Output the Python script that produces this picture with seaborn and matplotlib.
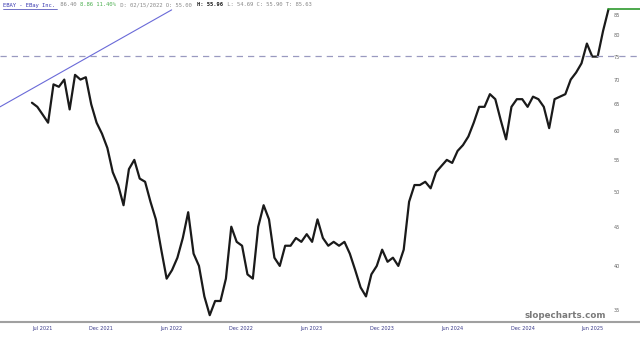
import matplotlib
matplotlib.use("Agg")
import matplotlib.pyplot as plt
from matplotlib.lines import Line2D
import seaborn as sns
import pandas as pd

# ---- data (bi-weekly closes) ----
start_date = "2021-06-05"
closes = [65.3, 64.5, 63.0, 61.5, 69.0, 68.5, 70.0, 64.0, 71.0, 70.0,
          70.5, 65.0, 61.5, 59.5, 57.0, 53.0, 51.0, 48.0, 53.5, 55.0,
          52.0, 51.5, 48.5, 46.0, 42.0, 38.5, 39.5, 41.0, 43.5, 47.0,
          41.5, 40.0, 36.5, 34.5, 36.0, 36.0, 38.5, 45.0, 43.0, 42.5,
          39.0, 38.5, 45.0, 48.0, 46.0, 41.0, 40.0, 42.5, 42.5, 43.5,
          43.0, 44.0, 43.0, 46.0, 43.5, 42.5, 43.0, 42.5, 43.0, 41.5,
          39.5, 37.5, 36.5, 39.0, 40.0, 42.0, 40.5, 41.0, 40.0, 42.0,
          48.5, 51.0, 51.0, 51.5, 50.5, 53.0, 54.0, 55.0, 54.5, 56.5,
          57.5, 59.0, 61.5, 64.5, 64.5, 67.0, 66.0, 62.0, 58.5, 64.5,
          66.0, 66.0, 64.5, 66.5, 66.0, 64.5, 60.5, 66.0, 66.5, 67.0,
          70.0, 71.5, 73.5, 78.0, 75.0, 75.0, 81.0, 86.4]
dates = pd.date_range(start_date, periods=len(closes), freq="14D")
last_price = 86.40
resistance = 75.2
trend_dates = ["2021-03-14", "2022-06-03"]
trend_values = [64.5, 86.3]
y_ticks = [35, 40, 45, 50, 55, 60, 65, 70, 75, 80, 85]
x_tick_dates = ["2021-07-01", "2021-12-01", "2022-06-01", "2022-12-01", "2023-06-01",
                "2023-12-01", "2024-06-01", "2024-12-01", "2025-06-01"]
x_tick_labels = ["Jul 2021", "Dec 2021", "Jun 2022", "Dec 2022", "Jun 2023",
                 "Dec 2023", "Jun 2024", "Dec 2024", "Jun 2025"]

df = pd.DataFrame({"date": dates, "close": closes})

sns.set_style("white")
plt.rcParams["font.family"] = ["DejaVu Sans"]

fig = plt.figure(figsize=(6.4, 3.37), dpi=100)
ax = fig.add_axes([0, 1 - 322 / 337, 1, 322 / 337])

sns.lineplot(data=df, x="date", y="close", ax=ax, color="#1a1a1a", lw=1.6)

# last price line
ax.plot([dates[-1], pd.Timestamp("2025-10-02")], [last_price, last_price],
        color="#2e9a2e", lw=1.2)
# resistance dashed line
ax.axhline(resistance, color="#9a9ac0", lw=0.9, ls=(0, (5, 4)))
# trend line
ax.plot(pd.to_datetime(trend_dates), trend_values, color="#6a6ad8", lw=0.8)

ax.set_yscale("log")
ax.set_ylim(33.8, 88.9)
ax.set_xlim(pd.Timestamp("2021-03-14"), pd.Timestamp("2025-10-02"))

ax.yaxis.tick_right()
ax.set_yticks(y_ticks)
ax.set_yticklabels([str(v) for v in y_ticks])
ax.yaxis.set_minor_locator(matplotlib.ticker.NullLocator())
ax.tick_params(axis="y", length=0, pad=-19, labelsize=3.6, labelcolor="#666666")

ax.set_xticks(pd.to_datetime(x_tick_dates))
ax.set_xticklabels(x_tick_labels)
ax.tick_params(axis="x", length=0, pad=3, labelsize=3.6, labelcolor="#3a3a8a")

ax.set_xlabel("")
ax.set_ylabel("")
for s in ["top", "left", "right"]:
    ax.spines[s].set_visible(False)
ax.spines["bottom"].set_color("#a0a0a0")
ax.spines["bottom"].set_linewidth(1.5)

# header
fs = 4.0
cw = 0.602 * fs * 100 / 72 / 640.0
ty = 1 - 5 / 337
pieces = [("EBAY - EBay Inc.", "#3a3ab0", "normal"),
          (" 86.40 ", "#888888", "normal"),
          ("8.86 11.40%", "#4caf50", "normal"),
          (" D: 02/15/2022 O: 55.00 ", "#888888", "normal"),
          ("H: 55.96", "#222222", "bold"),
          (" L: 54.69 C: 55.90 T: 85.63", "#888888", "normal")]
pos = 3 / 640
for txt, col, wt in pieces:
    fig.text(pos, ty, txt, fontsize=fs, color=col, family="DejaVu Sans Mono",
             fontweight=wt, va="center", ha="left")
    pos += len(txt) * cw
fig.add_artist(Line2D([3 / 640, 3 / 640 + 16 * cw], [ty - 3.5 / 337, ty - 3.5 / 337],
                      color="#3a3ab0", lw=0.5))

fig.text(606 / 640, 1 - 315 / 337, "slopecharts.com", fontsize=6.3, color="#7a7a7a",
         fontweight="bold", ha="right", va="center")

fig.savefig("out.png", dpi=100)
